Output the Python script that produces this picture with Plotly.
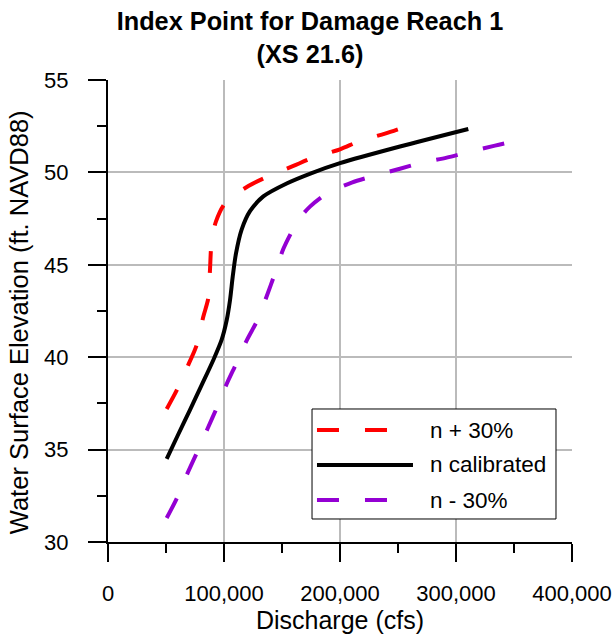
import plotly.graph_objects as go

# ---- data ----
calib_q = [50600, 60000, 70700, 80800, 90800, 98000, 102300, 105200, 107500, 110300,
           115200, 122400, 133900, 154000, 175000, 200000, 251700, 310600]
calib_wse = [34.5, 35.75, 37.15, 38.5, 39.85, 40.95, 42.0, 43.1, 44.35, 45.6,
             46.9, 47.9, 48.7, 49.4, 49.95, 50.5, 51.4, 52.35]

plus_q = [50600, 59200, 69300, 76400, 82200, 86500, 87900, 89400, 93100, 100900,
          121000, 136800, 159800, 177000, 200000, 217200, 238800, 257500]
plus_wse = [37.2, 38.2, 39.6, 40.65, 42.2, 43.2, 44.7, 46.3, 47.35, 48.33,
            49.26, 49.75, 50.35, 50.8, 51.25, 51.7, 52.1, 52.5]

minus_q = [50600, 59200, 68400, 76400, 85600, 93700, 102300, 110900, 119500, 129600,
           136800, 144000, 151100, 159800, 167000, 174100, 188500, 210100, 228700,
           251700, 269000, 292000, 310600, 333600, 351700]
minus_wse = [31.3, 32.35, 33.7, 34.8, 36.1, 37.25, 38.55, 39.7, 40.9, 42.1,
             43.3, 44.55, 45.85, 46.95, 47.65, 48.15, 48.85, 49.45, 49.8,
             50.2, 50.5, 50.8, 51.1, 51.45, 51.7]

series_names = ["n + 30%", "n calibrated", "n - 30%"]
series_colors = ["#ff0000", "#000000", "#9400d3"]
series_dash = ["22px,26px", "solid", "22px,26px"]

x_ticks = [0, 100000, 200000, 300000, 400000]
y_ticks = [30, 35, 40, 45, 50, 55]

FONT = "Arial, 'Liberation Sans', sans-serif"

fig = go.Figure()
for q, w, name, col, dash in zip([plus_q, calib_q, minus_q],
                                 [plus_wse, calib_wse, minus_wse],
                                 series_names, series_colors, series_dash):
    fig.add_trace(go.Scatter(
        x=q, y=w, mode="lines", name=name,
        line=dict(color=col, width=4, dash=dash, shape="spline", smoothing=0.8),
        showlegend=False, hoverinfo="skip"))

# ---- manual legend (box, samples, labels) ----
lx0, lx1, ly0, ly1 = 0.4397, 0.9655, 0.0498, 0.2879
fig.add_shape(type="rect", xref="paper", yref="paper", x0=lx0, x1=lx1, y0=ly0, y1=ly1,
              line=dict(color="black", width=1), fillcolor="white", layer="above")
rows = [0.2424, 0.1667, 0.0909]
for yy, name, col, dash in zip(rows, series_names, series_colors, series_dash):
    fig.add_shape(type="line", xref="paper", yref="paper", x0=0.4504, x1=0.6573,
                  y0=yy, y1=yy, line=dict(color=col, width=4, dash=dash), layer="above")
    fig.add_annotation(xref="paper", yref="paper", x=0.690, y=yy, text=name,
                       showarrow=False, xanchor="left", yanchor="middle",
                       font=dict(family=FONT, size=22.5, color="black"))

# ---- y axis title (placed as in reference, slightly below plot centre) ----
fig.add_annotation(xref="paper", yref="paper", x=-0.1916, y=0.476,
                   text="Water Surface Elevation (ft. NAVD88)", textangle=-90,
                   showarrow=False, xanchor="center", yanchor="middle",
                   font=dict(family=FONT, size=25.5, color="black"))

axis_common = dict(
    showline=True, linecolor="black", linewidth=2, mirror=False,
    ticks="outside", ticklen=18, tickwidth=2, tickcolor="black",
    showgrid=True, gridcolor="#bbbbbb", gridwidth=2, zeroline=False,
    tickfont=dict(family=FONT, size=22, color="black"),
    automargin=False,
)

fig.update_layout(
    width=613, height=636,
    margin=dict(l=108, r=41, t=80, b=94),
    paper_bgcolor="white", plot_bgcolor="white",
    title=dict(text="<b>Index Point for Damage Reach 1<br>(XS 21.6)</b>",
               x=0.5057, xref="container", xanchor="center",
               y=1 - 30 / 636, yref="container", yanchor="middle",
               font=dict(family=FONT, size=25.3, color="black")),
    xaxis=dict(range=[0, 400000], tickvals=x_ticks, tickformat=",",
               minor=dict(dtick=50000, ticks="outside", ticklen=9, tickwidth=2,
                          tickcolor="black", showgrid=False),
               ticklabelstandoff=13,
               title=dict(text="Discharge (cfs)", standoff=1,
                          font=dict(family=FONT, size=25, color="black")),
               **axis_common),
    yaxis=dict(range=[30, 55], tickvals=y_ticks,
               minor=dict(dtick=2.5, ticks="outside", ticklen=9, tickwidth=2,
                          tickcolor="black", showgrid=False),
               ticklabelstandoff=15,
               **axis_common),
)

fig.write_html("out.html",
               config={"displayModeBar": False},
               post_script="document.body.style.margin='0px';"
                           "document.body.style.overflow='hidden';")
